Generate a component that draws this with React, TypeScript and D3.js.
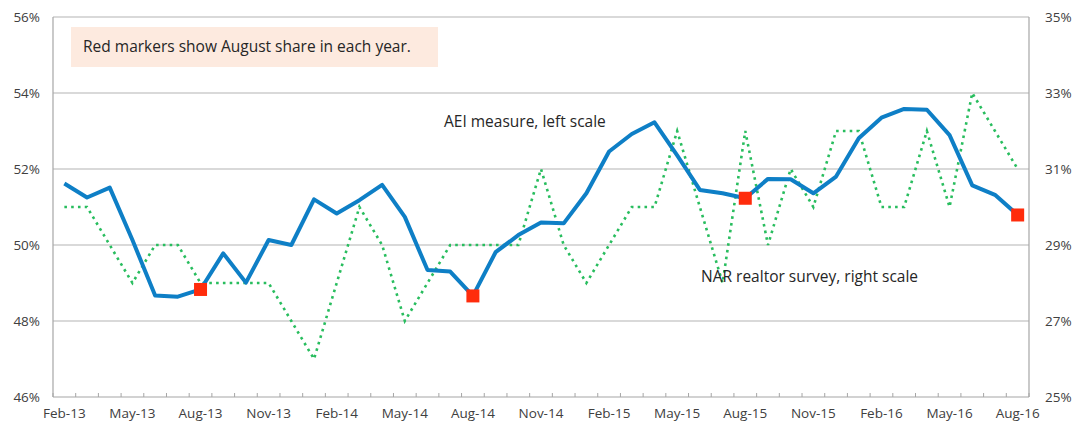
import React from "react";
import * as d3 from "d3";

const months = [
  "Feb-13","Mar-13","Apr-13","May-13","Jun-13","Jul-13","Aug-13","Sep-13","Oct-13","Nov-13","Dec-13","Jan-14",
  "Feb-14","Mar-14","Apr-14","May-14","Jun-14","Jul-14","Aug-14","Sep-14","Oct-14","Nov-14","Dec-14","Jan-15",
  "Feb-15","Mar-15","Apr-15","May-15","Jun-15","Jul-15","Aug-15","Sep-15","Oct-15","Nov-15","Dec-15","Jan-16",
  "Feb-16","Mar-16","Apr-16","May-16","Jun-16","Jul-16","Aug-16",
];

// AEI measure (left scale, %)
const aei = [
  51.62, 51.25, 51.51, 50.13, 48.67, 48.64, 48.83, 49.78, 49.01, 50.13, 50.0, 51.2,
  50.83, 51.18, 51.58, 50.74, 49.34, 49.3, 48.66, 49.81, 50.26, 50.59, 50.57, 51.36,
  52.46, 52.92, 53.23, 52.36, 51.45, 51.36, 51.23, 51.74, 51.73, 51.36, 51.8, 52.81,
  53.35, 53.58, 53.56, 52.89, 51.57, 51.32, 50.79,
];

// NAR realtor survey (right scale, %)
const nar = [
  30, 30, 29, 28, 29, 29, 28, 28, 28, 28, 27, 26,
  28, 30, 29, 27, 28, 29, 29, 29, 29, 31, 29, 28,
  29, 30, 30, 32, 30, 28, 32, 29, 31, 30, 32, 32,
  30, 30, 32, 30, 33, 32, 31,
];

const leftTicks = [46, 48, 50, 52, 54, 56];
const rightTicks = [25, 27, 29, 31, 33, 35];
const noteText = "Red markers show August share in each year.";
const aeiLabel = "AEI measure, left scale";
const narLabel = "NAR realtor survey, right scale";

const W = 1076;
const H = 422;
const M = { left: 53, right: 1029, top: 17, bottom: 397 };
const FONT = "'Open Sans', 'Noto Sans', sans-serif";

export default function App() {
  const x = d3.scaleBand<string>().domain(months).range([M.left, M.right]).padding(0);
  const yL = d3.scaleLinear().domain([46, 56]).range([M.bottom, M.top]);
  const yR = d3.scaleLinear().domain([25, 35]).range([M.bottom, M.top]);
  const cx = (m: string) => (x(m) as number) + x.bandwidth() / 2;

  const aeiLine = d3
    .line<number>()
    .x((_, i) => cx(months[i]))
    .y((d) => yL(d));
  const narLine = d3
    .line<number>()
    .x((_, i) => cx(months[i]))
    .y((d) => yR(d));

  const boundaries = d3.range(months.length + 1).map((i) => M.left + i * x.bandwidth());
  const augIdx = months.map((m, i) => (m.startsWith("Aug") ? i : -1)).filter((i) => i >= 0);

  return (
    <svg
      width={W}
      height={H}
      style={{ position: "absolute", left: 0, top: 0, background: "#fff" }}
      fontFamily={FONT}
    >
      {/* gridlines */}
      {leftTicks.slice(1).map((t) => (
        <line key={t} x1={M.left} x2={M.right} y1={yL(t)} y2={yL(t)} stroke="#b3b3b3" strokeWidth={1.2} />
      ))}
      {/* axes lines */}
      <line x1={M.left} x2={M.left} y1={M.top} y2={M.bottom} stroke="#a6a6a6" strokeWidth={1.2} />
      <line x1={M.right} x2={M.right} y1={M.top} y2={M.bottom} stroke="#a6a6a6" strokeWidth={1.2} />
      <line x1={M.left} x2={M.right} y1={M.bottom} y2={M.bottom} stroke="#a6a6a6" strokeWidth={1.2} />
      {boundaries.map((bx, i) => (
        <line key={i} x1={bx} x2={bx} y1={M.bottom - 4} y2={M.bottom} stroke="#a6a6a6" strokeWidth={1} />
      ))}

      {/* left axis labels */}
      {leftTicks.map((t) => (
        <text key={t} x={40} y={yL(t)} dy="0.35em" textAnchor="end" fontSize={13.5} fill="#404040">
          {t}%
        </text>
      ))}
      {/* right axis labels */}
      {rightTicks.map((t) => (
        <text key={t} x={1045} y={yR(t)} dy="0.35em" textAnchor="start" fontSize={13.5} fill="#404040">
          {t}%
        </text>
      ))}
      {/* x labels */}
      {months.map((m, i) =>
        i % 3 === 0 ? (
          <text key={m} x={cx(m)} y={417.5} textAnchor="middle" fontSize={13.5} fill="#404040">
            {m}
          </text>
        ) : null
      )}

      {/* note box */}
      <rect x={71} y={27} width={367} height={40} fill="#fdeadf" />
      <text x={83} y={51.5} fontSize={15.5} fill="#262626">
        {noteText}
      </text>

      {/* series */}
      <path
        d={narLine(nar) as string}
        fill="none"
        stroke="#28bd5e"
        strokeWidth={2.6}
        strokeDasharray="2.6 4.2"
      />
      <path
        d={aeiLine(aei) as string}
        fill="none"
        stroke="#0e7fc6"
        strokeWidth={4}
        strokeLinejoin="round"
      />
      {augIdx.map((i) => (
        <rect
          key={i}
          x={cx(months[i]) - 6.5}
          y={yL(aei[i]) - 6.5}
          width={13}
          height={13}
          fill="#ff2c0c"
        />
      ))}

      {/* series labels */}
      <text x={444} y={127} fontSize={15.5} fill="#262626">
        {aeiLabel}
      </text>
      <text x={701} y={282} fontSize={15.5} fill="#262626">
        {narLabel}
      </text>
    </svg>
  );
}
